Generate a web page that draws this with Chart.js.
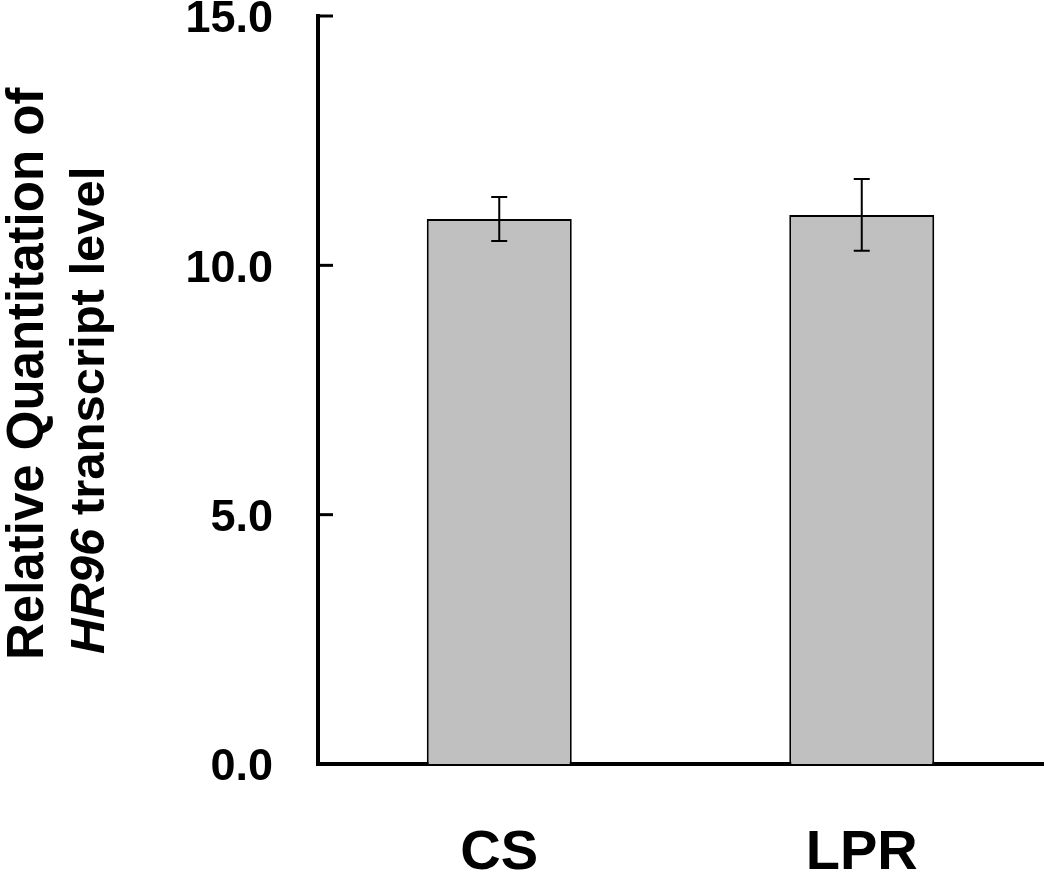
<!DOCTYPE html>
<html>
<head>
<meta charset="utf-8">
<script src="https://cdn.jsdelivr.net/npm/chart.js@4.4.0/dist/chart.umd.min.js"></script>
<style>
  body { margin: 0; background: #fff; }
  canvas { display: block; }
</style>
</head>
<body>
<canvas id="chart" width="1050" height="881"></canvas>
<script>
var categories = ['CS', 'LPR'];
var means = [10.93, 11.01];
var errors = [0.44, 0.72];
var yTicks = [0, 5, 10, 15];

var FONT = 'Arial, "Liberation Sans", sans-serif';

// error bars, drawn from the y scale
var errorBars = {
  id: 'errorBars',
  afterDatasetsDraw: function(chart) {
    var ctx = chart.ctx;
    var yScale = chart.scales.y;
    var meta = chart.getDatasetMeta(0);
    ctx.save();
    ctx.strokeStyle = '#000';
    ctx.lineWidth = 2;
    for (var i = 0; i < means.length; i++) {
      var x = meta.data[i].x;
      var top = yScale.getPixelForValue(means[i] + errors[i]);
      var bot = yScale.getPixelForValue(means[i] - errors[i]);
      ctx.beginPath();
      ctx.moveTo(x, top); ctx.lineTo(x, bot);
      ctx.moveTo(x - 8, top); ctx.lineTo(x + 8, top);
      ctx.moveTo(x - 8, bot); ctx.lineTo(x + 8, bot);
      ctx.stroke();
    }
    ctx.restore();
  }
};

// inward tick marks on the y axis
var innerTicks = {
  id: 'innerTicks',
  afterDraw: function(chart) {
    var ctx = chart.ctx;
    var yScale = chart.scales.y;
    var left = chart.chartArea.left;
    ctx.save();
    ctx.strokeStyle = '#000';
    ctx.lineWidth = 3;
    yScale.ticks.forEach(function(t) {
      var y = yScale.getPixelForValue(t.value);
      ctx.beginPath();
      ctx.moveTo(left, y);
      ctx.lineTo(left + 15, y);
      ctx.stroke();
    });
    ctx.restore();
  }
};

// two-line y title with italic gene name
var yTitle = {
  id: 'yTitle',
  afterDraw: function(chart) {
    var ctx = chart.ctx;
    ctx.save();
    ctx.fillStyle = '#000';
    ctx.textAlign = 'left';
    ctx.textBaseline = 'alphabetic';

    ctx.save();
    ctx.translate(43, 660);
    ctx.rotate(-Math.PI / 2);
    ctx.font = 'bold 51px ' + FONT;
    ctx.fillText('Relative Quantitation of', 0, 0);
    ctx.restore();

    ctx.save();
    ctx.translate(104, 654);
    ctx.rotate(-Math.PI / 2);
    ctx.font = 'italic bold 49px ' + FONT;
    ctx.fillText('HR96', 0, 0);
    var w = ctx.measureText('HR96').width;
    ctx.font = 'bold 49px ' + FONT;
    ctx.fillText(' transcript level', w, 0);
    ctx.restore();

    ctx.restore();
  }
};

new Chart(document.getElementById('chart'), {
  type: 'bar',
  data: {
    labels: categories,
    datasets: [{
      data: means,
      backgroundColor: '#c0c0c0',
      borderColor: '#000',
      borderWidth: 2,
      categoryPercentage: 1,
      barPercentage: 0.4
    }]
  },
  options: {
    responsive: false,
    animation: false,
    layout: { padding: { left: 0, right: 7, top: 0, bottom: 0 } },
    plugins: {
      legend: { display: false },
      tooltip: { enabled: false }
    },
    scales: {
      x: {
        grid: { display: false, drawTicks: false },
        border: { color: '#000', width: 4 },
        ticks: {
          color: '#000',
          padding: 56,
          font: { family: FONT, size: 56, weight: 'bold' }
        },
        afterFit: function(scale) {
          scale.height = 117;
          scale.paddingLeft = 0;
          scale.paddingRight = 0;
        }
      },
      y: {
        min: 0,
        max: 15,
        afterBuildTicks: function(scale) {
          scale.ticks = yTicks.map(function(v) { return { value: v }; });
        },
        grid: { display: false, drawTicks: false },
        border: { color: '#000', width: 4 },
        ticks: {
          color: '#000',
          padding: 45,
          labelOffset: 4,
          font: { family: FONT, size: 45, weight: 'bold' },
          callback: function(v) { return Number(v).toFixed(1); }
        },
        afterFit: function(scale) {
          scale.width = 318;
          scale.paddingTop = 16;
          scale.paddingBottom = 0;
        }
      }
    }
  },
  plugins: [errorBars, innerTicks, yTitle]
});
</script>
</body>
</html>
